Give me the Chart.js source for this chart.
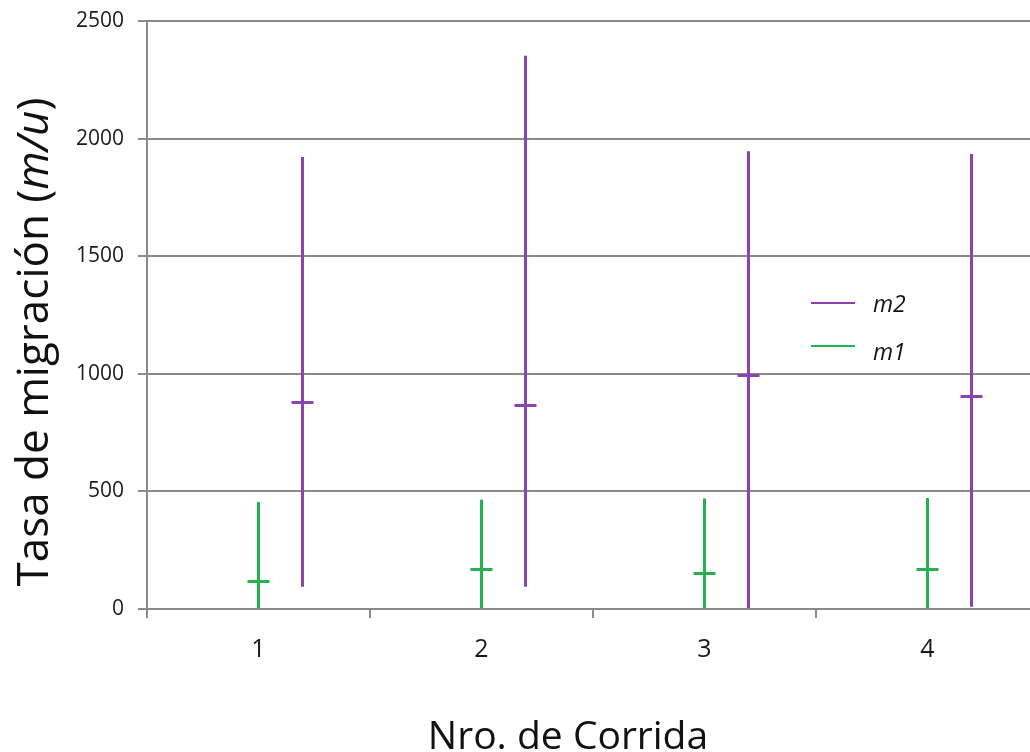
<!DOCTYPE html>
<html>
<head>
<meta charset="utf-8">
<script src="https://cdn.jsdelivr.net/npm/chart.js@4/dist/chart.umd.min.js"></script>
<style>
  html, body { margin: 0; padding: 0; background: #fff; overflow: hidden; }
  #wrap { width: 1030px; height: 752px; overflow: hidden; position: relative; }
  canvas { display: block; }
</style>
</head>
<body>
<div id="wrap"><canvas id="c" width="1040" height="752"></canvas></div>
<script>
// ---- Data ----
const categories = ['1', '2', '3', '4'];
const yTicks = [0, 500, 1000, 1500, 2000, 2500];
const m1Low = [0, 0, 0, 0];
const m1High = [455, 465, 470, 472];
const m1Median = [118, 168, 155, 172];
const m2Low = [95, 95, 0, 10];
const m2High = [1922, 2352, 1946, 1934];
const m2Median = [882, 866, 993, 905];

const purple = '#8b44ad';
const green = '#27b04f';
const gridGray = '#8a8a8a';

const rangeOf = (lo, hi) => lo.map((v, i) => [v, hi[i]]);

const medianPlugin = {
  id: 'medians',
  afterDatasetsDraw(chart) {
    const ctx = chart.ctx;
    const ys = chart.scales.y;
    chart.data.datasets.forEach((ds, i) => {
      if (!ds.medians) return;
      const meta = chart.getDatasetMeta(i);
      ctx.save();
      ctx.strokeStyle = ds.backgroundColor;
      ctx.lineWidth = 3;
      meta.data.forEach((bar, j) => {
        const y = Math.round(ys.getPixelForValue(ds.medians[j])) + 0.5;
        ctx.beginPath();
        ctx.moveTo(bar.x - 11, y);
        ctx.lineTo(bar.x + 11, y);
        ctx.stroke();
      });
      ctx.restore();
    });
  }
};

const textPlugin = {
  id: 'texts',
  afterDraw(chart) {
    const ctx = chart.ctx;
    ctx.save();
    ctx.fillStyle = '#111';
    // X title
    ctx.font = '39px "Open Sans"';
    ctx.textAlign = 'center';
    ctx.textBaseline = 'alphabetic';
    ctx.fillText('Nro. de Corrida', 568, 749);
    // Y title (mixed italic)
    const parts = [
      ['Tasa de migración (', '44px "Open Sans"'],
      ['m/u', 'italic 44px "Open Sans"'],
      [')', '44px "Open Sans"']
    ];
    let total = 0;
    parts.forEach(p => { ctx.font = p[1]; total += ctx.measureText(p[0]).width; });
    ctx.translate(48, 342);
    ctx.rotate(-Math.PI / 2);
    ctx.textAlign = 'left';
    let x = -total / 2;
    parts.forEach(p => { ctx.font = p[1]; ctx.fillText(p[0], x, 0); x += ctx.measureText(p[0]).width; });
    ctx.restore();

    // Legend
    ctx.save();
    const legend = [['m2', purple, 303, 312], ['m1', green, 346, 360]];
    legend.forEach(([label, color, ly, ty]) => {
      ctx.strokeStyle = color;
      ctx.lineWidth = 2;
      ctx.beginPath();
      ctx.moveTo(811, ly);
      ctx.lineTo(855, ly);
      ctx.stroke();
      ctx.fillStyle = '#111';
      ctx.font = 'italic 23px "Open Sans"';
      ctx.textAlign = 'left';
      ctx.textBaseline = 'alphabetic';
      ctx.fillText(label, 873, ty);
    });
    ctx.restore();
  }
};

new Chart(document.getElementById('c'), {
  type: 'bar',
  data: {
    labels: categories,
    datasets: [
      { label: '', data: categories.map(() => null), backgroundColor: 'rgba(0,0,0,0)' },
      { label: 'm1', data: rangeOf(m1Low, m1High), medians: m1Median, backgroundColor: green },
      { label: 'm2', data: rangeOf(m2Low, m2High), medians: m2Median, backgroundColor: purple }
    ]
  },
  options: {
    responsive: false,
    animation: false,
    events: [],
    categoryPercentage: 0.592,
    barPercentage: 1,
    maxBarThickness: 3,
    borderWidth: 0,
    layout: { padding: { top: 21, right: 1, left: 0, bottom: 0 } },
    plugins: { legend: { display: false }, tooltip: { enabled: false } },
    scales: {
      x: {
        type: 'category',
        offset: true,
        afterFit(s) { s.height = 143; s.paddingLeft = 0; s.paddingRight = 0; },
        grid: { offset: true, drawOnChartArea: false, drawTicks: true, tickLength: 9, color: gridGray, lineWidth: 2 },
        border: { display: true, color: gridGray, width: 2 },
        ticks: { color: '#1a1a1a', font: { family: '"Open Sans"', size: 25 }, padding: 17 }
      },
      y: {
        min: 0, max: 2500,
        afterFit(s) { s.width = 147; s.paddingTop = 0; s.paddingBottom = 0; },
        afterBuildTicks(s) { s.ticks = yTicks.map(v => ({ value: v })); },
        grid: { color: gridGray, lineWidth: 2, tickLength: 9 },
        border: { display: true, color: gridGray, width: 2 },
        ticks: { color: '#1a1a1a', font: { family: '"Open Sans"', size: 21 }, padding: 14, callback: v => String(v) }
      }
    }
  },
  plugins: [medianPlugin, textPlugin]
});
</script>
</body>
</html>
